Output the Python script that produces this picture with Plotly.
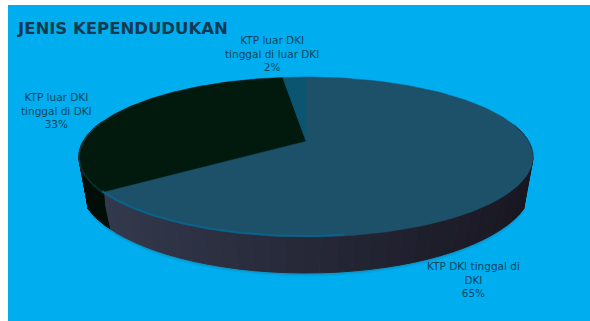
import numpy as np
import plotly.graph_objects as go

# Population types, listed clockwise from the top of the pie
categories = ["KTP DKI tinggal di DKI", "KTP luar DKI tinggal di DKI", "KTP luar DKI tinggal di luar DKI"]
shares = [65, 33, 2]
label_lines = [
    "KTP DKI tinggal di<br>DKI<br>65%",
    "KTP luar DKI<br>tinggal di DKI<br>33%",
    "KTP luar DKI<br>tinggal di luar DKI<br>2%",
]
title_text = "JENIS KEPENDUDUKAN"
top_colors = ["#1d5169", "#021a0e", "#0b5570"]

W, H = 590, 321
CX, APEX_Y = 306.0, 141.0
RX, RY, TILT = 222.4, 76.8, 0.2
# Lower outline of the rim
BASE_CY, BASE_RX, BASE_RY, BASE_SHRINK = 185.0, 226.0, 88.0, 0.96


def project(theta):
    """Map a clockwise angle from the top of a tilted disc to pixel coordinates."""
    u, v = np.sin(theta), np.cos(theta)
    s = 1.0 / (1.0 + TILT * v)
    return CX + RX * u * s, APEX_Y - RY * v * s


def base_point(theta):
    """Point on the lower rim outline directly below the disc edge at theta."""
    x, _ = project(theta)
    dx = (x - CX) * BASE_SHRINK
    return CX + dx, BASE_CY + BASE_RY * np.sqrt(np.clip(1 - (dx / BASE_RX) ** 2, 0, 1))


def mix(a, b, t):
    ca = [int(a[i:i + 2], 16) for i in (1, 3, 5)]
    cb = [int(b[i:i + 2], 16) for i in (1, 3, 5)]
    return "rgb(%d,%d,%d)" % tuple(round(x + (y - x) * t) for x, y in zip(ca, cb))


fracs = np.cumsum([0] + shares) / sum(shares)
edges = 2 * np.pi * fracs

fig = go.Figure()


def poly(xs, ys, color, width=0.0):
    fig.add_trace(go.Scatter(
        x=xs, y=ys, mode="lines", fill="toself", fillcolor=color,
        line=dict(color=color, width=width), hoverinfo="skip", showlegend=False,
    ))


FRONT_START = np.pi / 2 - 0.22
FRONT_END = 3 * np.pi / 2 + 0.22

# Soft shadow under the rim
t = np.linspace(FRONT_START, FRONT_END, 160)
bx, by = base_point(t)
tx, ty = project(t)
for grow, col in ((3.0, "#04a4e0"), (1.5, "#0798cc")):
    poly(np.r_[tx, bx[::-1]], np.r_[ty, by[::-1] + grow], col, 1.0)

# Rim of the disc, in narrow overlapping bands so its shade drifts along the edge
for i in range(len(shares)):
    lo, hi = max(edges[i], FRONT_START), min(edges[i + 1], FRONT_END)
    if hi <= lo:
        continue
    steps = np.linspace(lo, hi, 45)
    for a, b in zip(steps[:-1], steps[1:]):
        seg = np.linspace(a, b, 4)
        x, y = project(seg)
        lx, ly = base_point(seg)
        sx = (x.mean() - (CX - RX)) / (2 * RX)
        col = mix("#343a4e", "#191722", sx) if i == 0 else "#020f08"
        poly(np.r_[x, lx[::-1]], np.r_[y, ly[::-1]], col, 1.0)

# Top faces of the slices
for i in range(len(shares)):
    t = np.linspace(edges[i], edges[i + 1], 180)
    x, y = project(t)
    poly(np.r_[CX, x, CX], np.r_[APEX_Y, y, APEX_Y], top_colors[i], 0.5)

# Lit lips along the front edges of the two large slices
t = np.linspace(np.radians(172), edges[1], 100)
x, y = project(t)
fig.add_trace(go.Scatter(x=x, y=y - 1, mode="lines", line=dict(color="#0a6288", width=2),
                         hoverinfo="skip", showlegend=False))
t = np.linspace(edges[1], np.radians(285), 60)
x, y = project(t)
fig.add_trace(go.Scatter(x=x, y=y, mode="lines", line=dict(color="#07352f", width=1.5),
                         hoverinfo="skip", showlegend=False))

label_pos = [(473, 279), (56, 110), (272, 53)]
annotations = [
    dict(x=px, y=py, text=txt, showarrow=False, xref="x", yref="y",
         font=dict(family="DejaVu Sans", size=10.5, color="#0f4460"), align="center")
    for txt, (px, py) in zip(label_lines, label_pos)
]
annotations.append(dict(
    x=15, y=28, text=f"<b>{title_text}</b>", showarrow=False, xref="x", yref="y", xanchor="left",
    font=dict(family="DejaVu Sans", size=16.5, color="#0f3a52"),
))

fig.update_layout(
    width=W, height=H, margin=dict(l=0, r=0, t=0, b=0),
    paper_bgcolor="#ffffff", plot_bgcolor="#ffffff",
    xaxis=dict(range=[0, W], visible=False, fixedrange=True),
    yaxis=dict(range=[H, 0], visible=False, fixedrange=True),
    shapes=[dict(type="rect", xref="x", yref="y", x0=8, x1=W, y0=5, y1=H,
                 fillcolor="#00aeef", line_width=0, layer="below")],
    annotations=annotations,
)
fig.write_html("out.html", config={"displayModeBar": False})
